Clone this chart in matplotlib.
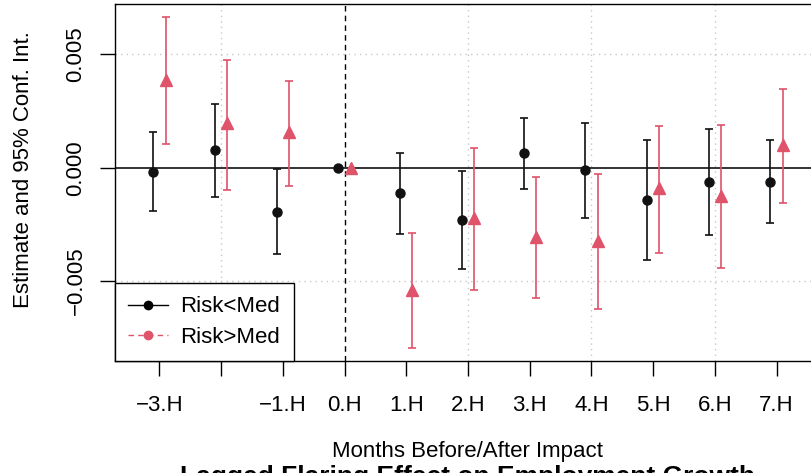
import numpy as np
import matplotlib.pyplot as plt
from matplotlib.lines import Line2D

plt.rcParams['font.family'] = ['Liberation Sans', 'DejaVu Sans']

# relative periods (half-years around impact)
periods = [-3, -2, -1, 0, 1, 2, 3, 4, 5, 6, 7]
tick_labels = ["\u22123.H", "", "\u22121.H", "0.H", "1.H", "2.H", "3.H", "4.H", "5.H", "6.H", "7.H"]

# Risk < median
low_est = [-0.00018, 0.00077, -0.00194, 0.0, -0.00113, -0.00230, 0.00064, -0.00012, -0.00141, -0.00062, -0.00062]
low_hi = [0.00158, 0.00281, -0.00007, 0.0, 0.00066, -0.00015, 0.00219, 0.00197, 0.00122, 0.00172, 0.00121]
low_lo = [-0.00192, -0.00128, -0.00381, 0.0, -0.00294, -0.00446, -0.00093, -0.00221, -0.00406, -0.00297, -0.00243]

# Risk > median
high_est = [0.00387, 0.00196, 0.00156, 0.0, -0.00540, -0.00222, -0.00304, -0.00322, -0.00091, -0.00125, 0.00100]
high_hi = [0.00666, 0.00477, 0.00383, 0.0, -0.00288, 0.00086, -0.00040, -0.00026, 0.00185, 0.00190, 0.00347]
high_lo = [0.00103, -0.00097, -0.00079, 0.0, -0.00797, -0.00540, -0.00576, -0.00623, -0.00375, -0.00444, -0.00154]

red = "#DF536B"
fs = 16

fig = plt.figure(figsize=(8.11, 4.73), dpi=100)
W, H = 811, 473
ax = fig.add_axes([115 / W, (H - 361) / H, (821 - 115) / W, (361 - 4) / H])

x = np.array(periods, dtype=float)
off = 0.1

# grid
for gx in [-2, 2, 4, 6]:
    ax.axvline(gx, color="#c8c8c8", lw=1, ls=(0, (1, 3)), zorder=0)
for gy in [-0.005, 0.005]:
    ax.axhline(gy, color="#c8c8c8", lw=1, ls=(0, (1, 3)), zorder=0)
ax.axhline(0, color="#333333", lw=1.4, zorder=1)
ax.axvline(0, color="black", lw=1, ls=(0, (4, 3)), zorder=1)

def draw(xs, est, lo, hi, color, marker, ms):
    est = np.array(est); lo = np.array(lo); hi = np.array(hi)
    mask = (hi - lo) > 0
    ax.errorbar(xs[mask], est[mask], yerr=[est[mask] - lo[mask], hi[mask] - est[mask]],
                fmt="none", ecolor=color, elinewidth=1.2, capsize=3, capthick=1.2, zorder=2)
    ax.plot(xs, est, ls="none", marker=marker, color=color, ms=ms, zorder=3)

draw(x - off, low_est, low_lo, low_hi, "#111111", "o", 6.5)
draw(x + off, high_est, high_lo, high_hi, red, "^", 8.5)

ax.set_xlim(-3.72, 7.72)
ax.set_ylim(-0.00853, 0.007224)
ax.set_xticks(periods)
ax.set_xticklabels(tick_labels, fontsize=fs)
ax.set_yticks([-0.005, 0.0, 0.005])
ax.set_yticklabels(["\u22120.005", "0.000", "0.005"], fontsize=fs, rotation=90, va="center")
ax.tick_params(axis="x", length=10.5, width=1, pad=14)
ax.tick_params(axis="y", length=10.5, width=1, pad=10)
for s in ax.spines.values():
    s.set_linewidth(1)

fig.text(24 / W, 1 - 170 / H, "Estimate and 95% Conf. Int.", rotation=90,
         ha="center", va="center", fontsize=fs)
fig.text(468 / W, 1 - 451 / H, "Months Before/After Impact", ha="center", va="center", fontsize=fs)
fig.text(468 / W, 1 - 465 / H, "Lagged Flaring Effect on Employment Growth", ha="center", va="top",
         fontsize=19, fontweight="bold")

handles = [Line2D([], [], color="black", lw=1, marker="o", ms=6),
           Line2D([], [], color=red, lw=1, ls=(0, (4, 3)), marker="o", ms=6)]
leg = ax.legend(handles, ["Risk<Med", "Risk>Med"], loc="lower left", bbox_to_anchor=(0, 0),
                borderaxespad=0, fancybox=False, frameon=True, fontsize=fs,
                handlelength=1.8, handletextpad=0.55, borderpad=0.6, labelspacing=0.42)
leg.get_frame().set_edgecolor("black")
leg.get_frame().set_linewidth(1)
leg.get_frame().set_alpha(1)

fig.savefig("out.png", dpi=100)
